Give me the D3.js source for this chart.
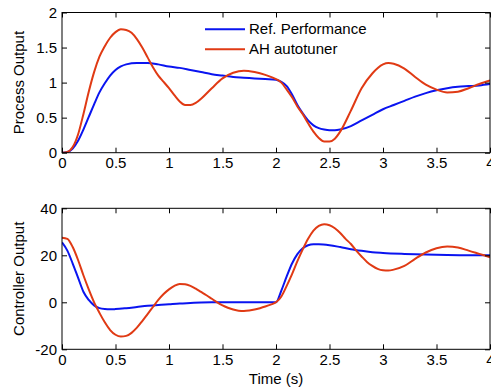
<!DOCTYPE html>
<html><head><meta charset="utf-8">
<script src="https://cdn.jsdelivr.net/npm/d3@7"></script>
<style>body{margin:0;background:#fff}svg{display:block}text{font-family:"Liberation Sans",Arial,sans-serif}</style>
</head><body><svg id="c" width="491" height="392"></svg>
<script>
// ---- data ----
const timeTicks = [0, 0.5, 1, 1.5, 2, 2.5, 3, 3.5, 4];
const timeTickLabels = ["0", "0.5", "1", "1.5", "2", "2.5", "3", "3.5", "4"];
const processTicks = [0, 0.5, 1, 1.5, 2];
const processTickLabels = ["0", "0.5", "1", "1.5", "2"];
const controllerTicks = [-20, 0, 20, 40];
const controllerTickLabels = ["-20", "0", "20", "40"];
const seriesNames = ["Ref. Performance", "AH autotuner"];

const processRefT = [0,0.05,0.1,0.15,0.2,0.25,0.3,0.35,0.4,0.45,0.5,0.55,0.6,0.7,0.8,0.9,1.0,1.1,1.2,1.3,1.4,1.5,1.6,1.7,1.8,1.9,2.0,2.05,2.1,2.15,2.2,2.25,2.3,2.35,2.4,2.45,2.5,2.55,2.6,2.7,2.8,2.9,3.0,3.1,3.2,3.3,3.4,3.5,3.6,3.7,3.8,3.9,4.0];
const processRefV = [0,0.01,0.06,0.17,0.33,0.51,0.69,0.86,0.99,1.1,1.18,1.23,1.26,1.28,1.28,1.26,1.23,1.21,1.18,1.15,1.12,1.1,1.08,1.07,1.06,1.05,1.04,1.01,0.95,0.83,0.68,0.56,0.46,0.39,0.35,0.33,0.32,0.32,0.33,0.38,0.46,0.54,0.62,0.68,0.74,0.8,0.85,0.89,0.92,0.94,0.95,0.96,0.98];

const processAhT = [0,0.05,0.1,0.15,0.2,0.25,0.3,0.35,0.4,0.45,0.5,0.55,0.6,0.65,0.7,0.75,0.8,0.85,0.9,0.95,1.0,1.05,1.1,1.15,1.2,1.25,1.3,1.4,1.5,1.6,1.7,1.8,1.9,2.0,2.05,2.1,2.15,2.2,2.25,2.3,2.35,2.4,2.45,2.5,2.55,2.6,2.7,2.8,2.9,3.0,3.05,3.1,3.2,3.3,3.4,3.5,3.6,3.7,3.8,3.9,4.0];
const processAhV = [0,0.01,0.08,0.26,0.55,0.87,1.15,1.37,1.52,1.64,1.72,1.76,1.75,1.71,1.62,1.5,1.36,1.22,1.1,1.01,0.92,0.82,0.73,0.68,0.68,0.71,0.77,0.92,1.06,1.14,1.17,1.15,1.11,1.05,1.0,0.9,0.79,0.66,0.55,0.42,0.3,0.21,0.16,0.16,0.2,0.3,0.6,0.92,1.13,1.26,1.28,1.27,1.2,1.08,0.97,0.9,0.86,0.87,0.92,0.98,1.03];

const ctrlRefT = [0,0.05,0.1,0.15,0.2,0.25,0.3,0.35,0.4,0.45,0.5,0.6,0.7,0.8,0.9,1.0,1.1,1.2,1.3,1.4,1.6,1.8,2.0,2.05,2.1,2.15,2.2,2.25,2.3,2.35,2.4,2.5,2.6,2.7,2.8,2.9,3.0,3.2,3.4,3.6,3.8,4.0];
const ctrlRefV = [25.5,22,16.5,10.5,4.5,1,-1.3,-2.5,-2.9,-3,-2.9,-2.5,-2,-1.5,-1.1,-0.8,-0.5,-0.3,-0.1,0,0,0,0,5,11,16.5,20.5,23,24.3,24.7,24.7,24.3,23.5,22.6,21.9,21.3,21,20.6,20.3,20.1,20,20];

const ctrlAhT = [0,0.05,0.1,0.15,0.2,0.25,0.3,0.35,0.4,0.45,0.5,0.55,0.6,0.65,0.7,0.75,0.8,0.85,0.9,0.95,1.0,1.05,1.1,1.15,1.2,1.25,1.3,1.35,1.4,1.45,1.5,1.55,1.6,1.65,1.7,1.75,1.8,1.85,1.9,1.95,2.0,2.05,2.1,2.15,2.2,2.25,2.3,2.35,2.4,2.45,2.5,2.55,2.6,2.65,2.7,2.75,2.8,2.85,2.9,2.95,3.0,3.05,3.1,3.2,3.3,3.4,3.5,3.6,3.7,3.8,3.9,4.0];
const ctrlAhV = [27.5,27,23.5,18,11.5,5.5,0,-4.5,-8.5,-11.8,-13.8,-14.6,-14.3,-13,-10.8,-8,-5,-2,1,3.5,5.5,7,7.8,7.7,7,5.8,4.4,3,1.5,0,-1.3,-2.3,-3.1,-3.6,-3.7,-3.5,-3.1,-2.5,-1.8,-1,0,2.5,7,12,17.5,22.5,27,30.5,32.5,33.2,32.8,31.5,29.5,27,24.8,22,19.5,17.2,15.5,14.2,13.6,13.5,13.9,15.5,18.5,21.2,23,23.7,23.3,22,20.6,19.2];

// ---- layout ----
const svg = d3.select("#c");
const left = 62, right = 490;
const panels = [
  {top: 12.5, bottom: 152.7, domain: [0, 2], ticks: processTicks, labels: processTickLabels, ylabel: "Process Output",
   series: [[processRefT, processRefV], [processAhT, processAhV]]},
  {top: 208.3, bottom: 349.3, domain: [-20, 40], ticks: controllerTicks, labels: controllerTickLabels, ylabel: "Controller Output",
   series: [[ctrlRefT, ctrlRefV], [ctrlAhT, ctrlAhV]]}
];
const colors = ["#0a14f0", "#e03a14"];
const fs = 15;

panels.forEach((p, i) => {
  const x = d3.scaleLinear().domain([0, 4]).range([left, right]);
  const y = d3.scaleLinear().domain(p.domain).range([p.bottom, p.top]);
  const g = svg.append("g");
  const clipId = "clip" + i;
  svg.append("clipPath").attr("id", clipId).append("rect")
    .attr("x", left).attr("y", p.top).attr("width", right - left).attr("height", p.bottom - p.top);

  // data lines
  const line = d3.line().x(d => x(d[0])).y(d => y(d[1])).curve(d3.curveMonotoneX);
  p.series.forEach((s, k) => {
    const pts = s[0].map((t, j) => [t, s[1][j]]);
    g.append("path").attr("d", line(pts)).attr("fill", "none")
      .attr("stroke", colors[k]).attr("stroke-width", 2)
      .attr("clip-path", `url(#${clipId})`);
  });

  // axes with inward ticks
  const tk = 5;
  const xb = d3.axisBottom(x).tickValues(timeTicks).tickFormat((d, j) => timeTickLabels[j]).tickSizeInner(-tk).tickSizeOuter(0).tickPadding(5);
  const xt = d3.axisTop(x).tickValues(timeTicks).tickFormat("").tickSizeInner(-tk).tickSizeOuter(0);
  const yl = d3.axisLeft(y).tickValues(p.ticks).tickFormat((d, j) => p.labels[j]).tickSizeInner(-tk).tickSizeOuter(0).tickPadding(5);
  const yr = d3.axisRight(y).tickValues(p.ticks).tickFormat("").tickSizeInner(-tk).tickSizeOuter(0);
  [[xb, `translate(0,${p.bottom})`], [xt, `translate(0,${p.top})`], [yl, `translate(${left},0)`], [yr, `translate(${right},0)`]].forEach(([ax, tr]) => {
    const a = g.append("g").attr("transform", tr).call(ax);
    a.select(".domain").remove();
    a.selectAll("line").attr("stroke", "#000");
    a.selectAll("text").attr("font-size", fs).attr("fill", "#000").style("font-family", '"Liberation Sans",Arial,sans-serif');
  });
  g.append("rect").attr("x", left).attr("y", p.top).attr("width", right - left).attr("height", p.bottom - p.top)
    .attr("fill", "none").attr("stroke", "#000").attr("stroke-width", 1);

  g.append("text").attr("transform", `translate(23.5,${(p.top + p.bottom) / 2}) rotate(-90)`)
    .attr("text-anchor", "middle").attr("font-size", fs).text(p.ylabel);

  if (i === 0) {
    const ly = [29.3, 49.3];
    seriesNames.forEach((n, k) => {
      g.append("line").attr("x1", 205).attr("x2", 245).attr("y1", ly[k]).attr("y2", ly[k])
        .attr("stroke", colors[k]).attr("stroke-width", 2);
      g.append("text").attr("x", 249).attr("y", ly[k] + 5).attr("font-size", fs).text(n);
    });
  } else {
    g.append("text").attr("x", (left + right) / 2).attr("y", 384).attr("text-anchor", "middle")
      .attr("font-size", fs).text("Time (s)");
  }
});
</script></body></html>
